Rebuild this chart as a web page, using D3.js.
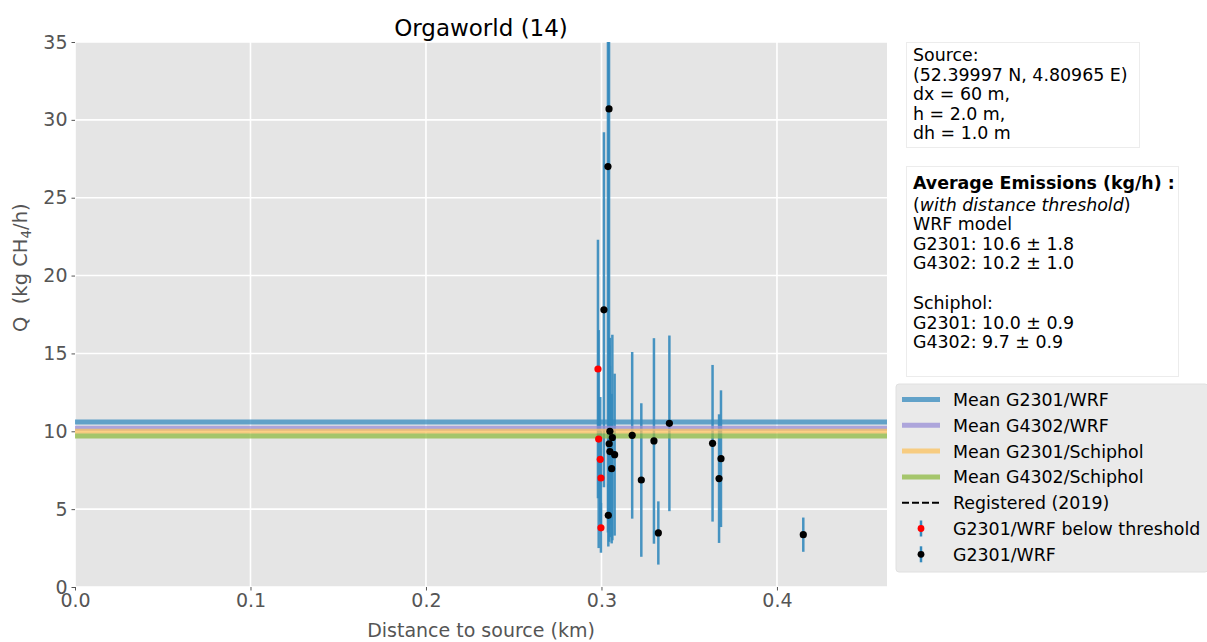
<!DOCTYPE html>
<html>
<head>
<meta charset="utf-8">
<script src="https://cdn.jsdelivr.net/npm/d3@7"></script>
<style>
  body { margin: 0; background: #fff; }
  svg { font-family: "DejaVu Sans", sans-serif; }
</style>
</head>
<body>
<div class="chart"></div>
<script>
var svgWidth = 1207;
var svgHeight = 642;

// plot box (pixels of the axes area)
var margin = { top: 42, left: 75 };
var width = 812;
var height = 545;

// points below the distance threshold (red)
var belowDist = [0.2980, 0.2984, 0.2993, 0.2997, 0.2997];
var belowQ    = [14.0, 9.5, 8.2, 7.0, 3.8];
var belowErr  = [8.3, 7.0, 4.0, 3.0, 1.6];

// points used for the average (black)
var aboveDist = [0.3043, 0.3037, 0.3014, 0.3048, 0.3062, 0.3044, 0.3048, 0.3075, 0.3058, 0.3039,
                 0.3175, 0.3227, 0.3299, 0.3324, 0.3387, 0.3633, 0.3670, 0.3681, 0.4150];
var aboveQ    = [30.7, 27.0, 17.8, 10.0, 9.6, 9.2, 8.7, 8.5, 7.6, 4.6,
                 9.74, 6.87, 9.38, 3.47, 10.51, 9.23, 6.96, 8.24, 3.36];
var aboveErr  = [26.0, 23.5, 11.4, 6.0, 6.6, 6.3, 5.5, 5.2, 4.8, 2.0,
                 5.35, 4.93, 6.6, 2.03, 5.64, 5.03, 4.13, 4.39, 1.1];

// mean emission lines
var meanNames  = ["Mean G2301/WRF", "Mean G4302/WRF", "Mean G2301/Schiphol", "Mean G4302/Schiphol"];
var meanValues = [10.6, 10.2, 10.0, 9.7];
var meanColors = ["#348ABD", "#988ED5", "#FBC15E", "#8EBA42"];

var xTicks = [0.0, 0.1, 0.2, 0.3, 0.4];
var yTicks = [0, 5, 10, 15, 20, 25, 30, 35];

var svg = d3.select(".chart")
  .append("svg")
  .attr("width", svgWidth)
  .attr("height", svgHeight);

var x = d3.scaleLinear().domain([0, 0.4627]).range([margin.left, margin.left + width]);
var y = d3.scaleLinear().domain([0, 35]).range([margin.top + height, margin.top]);

svg.append("defs").append("clipPath").attr("id", "plotclip")
  .append("rect")
  .attr("x", margin.left).attr("y", margin.top)
  .attr("width", width).attr("height", height);

// background
svg.append("rect")
  .attr("x", margin.left).attr("y", margin.top)
  .attr("width", width).attr("height", height)
  .attr("fill", "#E5E5E5");

// grid
svg.append("g").selectAll("line.vg")
  .data(xTicks).enter().append("line")
  .attr("x1", d => x(d)).attr("x2", d => x(d))
  .attr("y1", margin.top).attr("y2", margin.top + height)
  .attr("stroke", "#fff").attr("stroke-width", 1.6);
svg.append("g").selectAll("line.hg")
  .data(yTicks).enter().append("line")
  .attr("y1", d => y(d)).attr("y2", d => y(d))
  .attr("x1", margin.left).attr("x2", margin.left + width)
  .attr("stroke", "#fff").attr("stroke-width", 1.6);

var plot = svg.append("g").attr("clip-path", "url(#plotclip)");

var allDist = belowDist.concat(aboveDist);
var allQ = belowQ.concat(aboveQ);
var allErr = belowErr.concat(aboveErr);

// error bars
plot.selectAll("line.err")
  .data(allQ).enter().append("line")
  .attr("x1", (d, i) => x(allDist[i])).attr("x2", (d, i) => x(allDist[i]))
  .attr("y1", (d, i) => y(d - allErr[i])).attr("y2", (d, i) => y(d + allErr[i]))
  .attr("stroke", "#348ABD").attr("stroke-opacity", 0.9).attr("stroke-width", 2.5);

// mean lines
plot.selectAll("line.mean")
  .data(meanValues).enter().append("line")
  .attr("x1", margin.left).attr("x2", margin.left + width)
  .attr("y1", d => y(d)).attr("y2", d => y(d))
  .attr("stroke", (d, i) => meanColors[i]).attr("stroke-opacity", 0.75).attr("stroke-width", 5);

// points
plot.selectAll("circle.above")
  .data(aboveQ).enter().append("circle")
  .attr("cx", (d, i) => x(aboveDist[i])).attr("cy", d => y(d))
  .attr("r", 3.6).attr("fill", "#000");
plot.selectAll("circle.below")
  .data(belowQ).enter().append("circle")
  .attr("cx", (d, i) => x(belowDist[i])).attr("cy", d => y(d))
  .attr("r", 3.6).attr("fill", "#ff0000");

// axes
var xAxis = svg.append("g")
  .attr("transform", `translate(0, ${margin.top + height})`)
  .call(d3.axisBottom(x).tickValues(xTicks).tickFormat(d3.format(".1f")).tickSize(3.5).tickPadding(3));
var yAxis = svg.append("g")
  .attr("transform", `translate(${margin.left}, 0)`)
  .call(d3.axisLeft(y).tickValues(yTicks).tickSize(3.5).tickPadding(4));
[xAxis, yAxis].forEach(function(a) {
  a.select(".domain").remove();
  a.selectAll("line").attr("stroke", "#555");
  a.selectAll("text").attr("fill", "#555").attr("font-size", "19px")
    .attr("font-family", "DejaVu Sans");
});

// labels
svg.append("text")
  .attr("x", margin.left + width / 2).attr("y", 36)
  .attr("text-anchor", "middle").attr("font-size", "23px").attr("fill", "#000")
  .text("Orgaworld (14)");

svg.append("text")
  .attr("x", margin.left + width / 2).attr("y", 637)
  .attr("text-anchor", "middle").attr("font-size", "19px").attr("fill", "#555")
  .text("Distance to source (km)");

var ylab = svg.append("text")
  .attr("transform", "translate(27, 332) rotate(-90)")
  .attr("text-anchor", "start").attr("font-size", "19.5px").attr("fill", "#555")
  .style("white-space", "pre");
ylab.append("tspan").text("Q  (kg CH");
ylab.append("tspan").attr("font-size", "13.5px").attr("dy", 4).text("4");
ylab.append("tspan").attr("dy", -4).text("/h)");

// source box
svg.append("rect")
  .attr("x", 906.5).attr("y", 42.5).attr("width", 233).attr("height", 105)
  .attr("fill", "#fff").attr("stroke", "#ececec");
var srcLines = ["Source:", "(52.39997 N, 4.80965 E)", "dx = 60 m,", "h = 2.0 m,", "dh = 1.0 m"];
svg.append("g").selectAll("text")
  .data(srcLines).enter().append("text")
  .attr("x", 913).attr("y", (d, i) => 61 + i * 19.6)
  .attr("font-size", "17.4px").attr("fill", "#000")
  .text(d => d);

// averages box
svg.append("rect")
  .attr("x", 906.5).attr("y", 166.5).attr("width", 272).attr("height", 210)
  .attr("fill", "#fff").attr("stroke", "#ececec");
svg.append("text")
  .attr("x", 913).attr("y", 188.5)
  .attr("font-size", "17.4px").attr("font-weight", "bold").attr("fill", "#000")
  .text("Average Emissions (kg/h) :");
var it = svg.append("text").attr("x", 913).attr("y", 210.5)
  .attr("font-size", "17.4px").attr("fill", "#000");
it.append("tspan").text("(");
it.append("tspan").attr("font-style", "italic").text("with distance threshold");
it.append("tspan").text(")");
var avgLines = ["WRF model", "G2301: 10.6 \u00b1 1.8", "G4302: 10.2 \u00b1 1.0", "",
                "Schiphol:", "G2301: 10.0 \u00b1 0.9", "G4302: 9.7 \u00b1 0.9"];
svg.append("g").selectAll("text")
  .data(avgLines).enter().append("text")
  .attr("x", 913).attr("y", (d, i) => 230 + i * 19.7)
  .attr("font-size", "17.4px").attr("fill", "#000")
  .text(d => d);

// legend
var legX = 896, legY = 384;
svg.append("rect")
  .attr("x", legX).attr("y", legY).attr("width", 312).attr("height", 188)
  .attr("rx", 3).attr("fill", "#E5E5E5").attr("fill-opacity", 0.8).attr("stroke", "#e0e0e0");

var legendNames = meanNames.concat(["Registered (2019)", "G2301/WRF below threshold", "G2301/WRF"]);
var leg = svg.append("g").selectAll("g")
  .data(legendNames).enter().append("g")
  .attr("transform", (d, i) => `translate(${legX}, ${legY + 15.5 + i * 25.8})`);
leg.append("text")
  .attr("x", 57).attr("y", 6.5)
  .attr("font-size", "17.4px").attr("fill", "#000")
  .text(d => d);
leg.filter((d, i) => i < 4).append("line")
  .attr("x1", 6).attr("x2", 44).attr("y1", 0).attr("y2", 0)
  .attr("stroke", (d, i) => meanColors[i]).attr("stroke-opacity", 0.75).attr("stroke-width", 5);
leg.filter((d, i) => i === 4).append("line")
  .attr("x1", 6).attr("x2", 44).attr("y1", 0).attr("y2", 0)
  .attr("stroke", "#000").attr("stroke-width", 2).attr("stroke-dasharray", "7,3");
leg.filter((d, i) => i > 4).append("line")
  .attr("x1", 25).attr("x2", 25).attr("y1", -8).attr("y2", 8)
  .attr("stroke", "#348ABD").attr("stroke-width", 2.5);
leg.filter((d, i) => i > 4).append("circle")
  .attr("cx", 25).attr("cy", 0).attr("r", 3.4)
  .attr("fill", (d, i) => i === 0 ? "#ff0000" : "#000");
</script>
</body>
</html>
